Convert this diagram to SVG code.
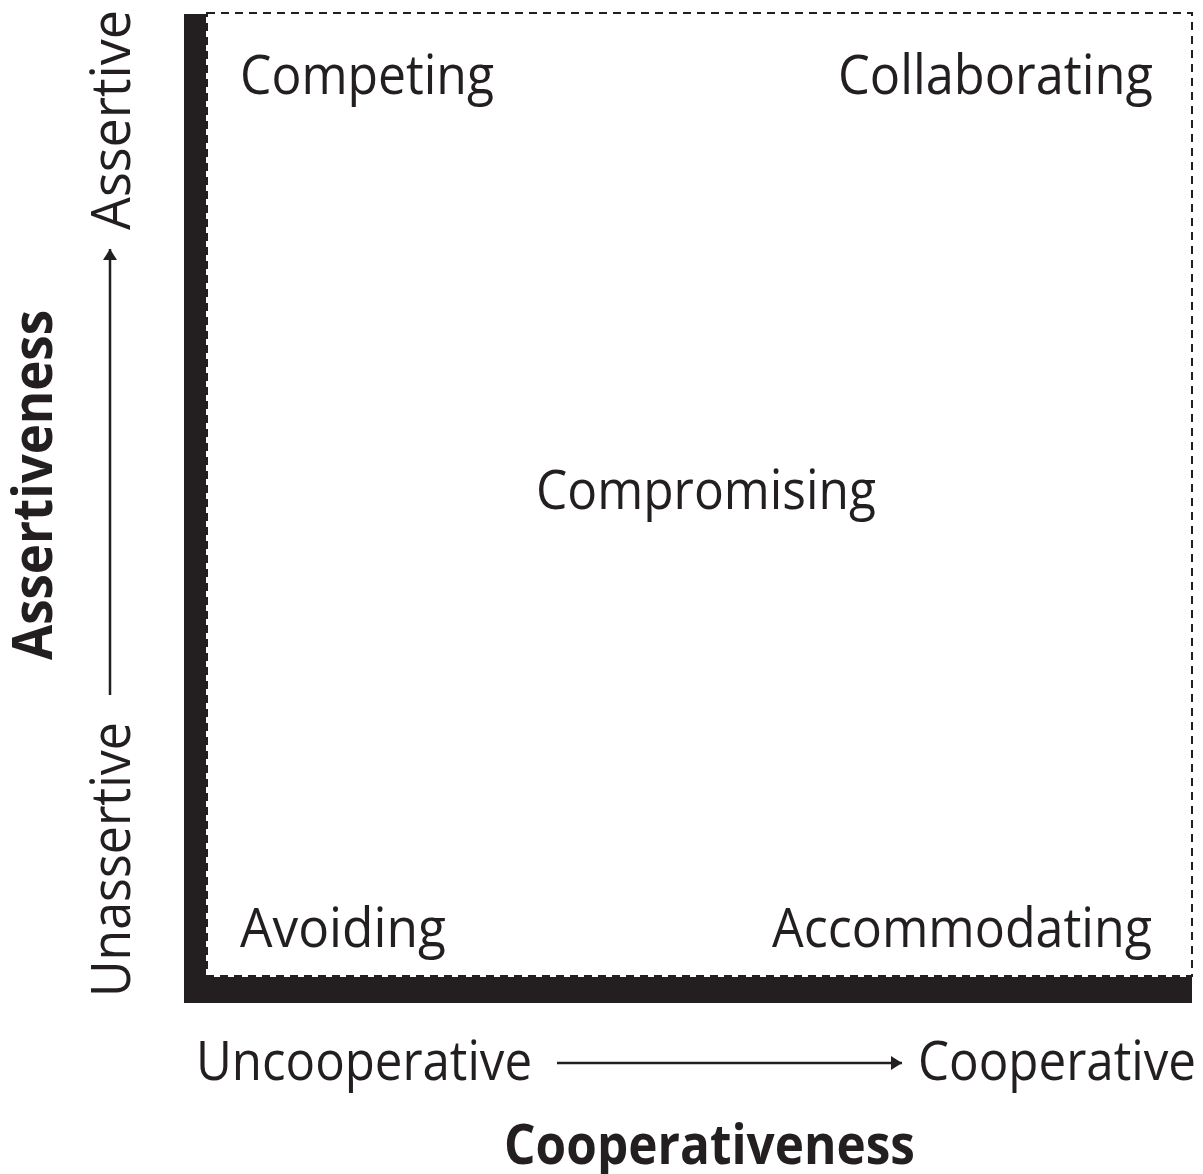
<svg xmlns="http://www.w3.org/2000/svg" width="1203" height="1174" viewBox="0 0 1203 1174">
  <defs>
    <style>
      .lbl { font-family: "Open Sans", "Noto Sans", sans-serif; font-size: 55px; fill: #231f20; }
      .ttl { font-family: "Open Sans", "Noto Sans", sans-serif; font-size: 55px; font-weight: 700; fill: #231f20; }
      .bar { fill: #231f20; }
      .frame { fill: none; stroke: #231f20; stroke-width: 2; stroke-dasharray: 8 6; }
      .axis { stroke: #231f20; stroke-width: 2.5; fill: none; }
    </style>
    <marker id="ah" viewBox="0 0 11 14" refX="11" refY="7" markerWidth="11" markerHeight="14" markerUnits="userSpaceOnUse" orient="auto">
      <path d="M0,0 L11,7 L0,14 Z" fill="#231f20"/>
    </marker>
  </defs>
  <rect width="1203" height="1174" fill="#ffffff"/>

  <g id="frame">
    <rect class="bar" x="184" y="14" width="22" height="989"/>
    <rect class="bar" x="184" y="977" width="1008" height="26"/>
    <rect class="frame" x="207" y="13" width="985" height="963"/>
  </g>

  <g id="connectors">
    <line class="axis" x1="557" y1="1063" x2="902" y2="1063" marker-end="url(#ah)"/>
    <line class="axis" x1="110" y1="695" x2="110" y2="249" marker-end="url(#ah)"/>
  </g>

  <g id="competing"><text class="lbl" x="240" y="94" textLength="254" lengthAdjust="spacingAndGlyphs">Competing</text></g>
  <g id="collaborating"><text class="lbl" x="838" y="94" textLength="315" lengthAdjust="spacingAndGlyphs">Collaborating</text></g>
  <g id="compromising"><text class="lbl" x="536" y="509" textLength="340" lengthAdjust="spacingAndGlyphs">Compromising</text></g>
  <g id="avoiding"><text class="lbl" x="240" y="947" textLength="206" lengthAdjust="spacingAndGlyphs">Avoiding</text></g>
  <g id="accommodating"><text class="lbl" x="772" y="947" textLength="380" lengthAdjust="spacingAndGlyphs">Accommodating</text></g>

  <g id="uncooperative"><text class="lbl" x="196" y="1080" textLength="336" lengthAdjust="spacingAndGlyphs">Uncooperative</text></g>
  <g id="cooperative"><text class="lbl" x="918" y="1080" textLength="278" lengthAdjust="spacingAndGlyphs">Cooperative</text></g>
  <g id="cooperativeness"><text class="ttl" x="504" y="1164" textLength="411" lengthAdjust="spacingAndGlyphs">Cooperativeness</text></g>

  <g id="assertiveness"><text class="ttl" transform="translate(52,660) rotate(-90)" x="0" y="0" textLength="350" lengthAdjust="spacingAndGlyphs">Assertiveness</text></g>
  <g id="unassertive"><text class="lbl" transform="translate(130,997) rotate(-90)" x="0" y="0" textLength="275" lengthAdjust="spacingAndGlyphs">Unassertive</text></g>
  <g id="assertive"><text class="lbl" transform="translate(130,230) rotate(-90)" x="0" y="0" textLength="220" lengthAdjust="spacingAndGlyphs">Assertive</text></g>
</svg>
